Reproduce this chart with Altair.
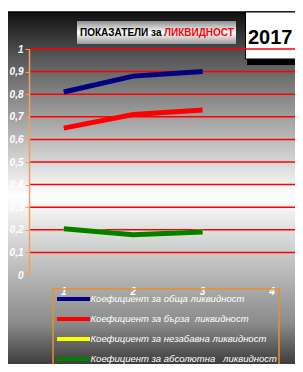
import altair as alt
import pandas as pd

# ---- data ----
periods = [1, 2, 3]
tick_positions = [1, 2, 3, 4]
tick_labels = ["1", "2", "3", "4"]
y_ticks = [0.1, 0.2, 0.3, 0.4, 0.5, 0.6, 0.7, 0.8, 0.9, 1.0]
series_names = [
    "Коефициент за обща ликвидност",
    "Коефициент за бърза\u00a0 ликвидност",
    "Коефициент за незабавна ликвидност",
    "Коефициент за абсолютна\u00a0\u00a0 ликвидност",
]
series_colors = ["#000080", "#ff0000", "#ffff00", "#008000"]
obshta = [0.81, 0.88, 0.90]
barza = [0.65, 0.71, 0.73]
nezabavna = [0.205, 0.178, 0.19]
absolyutna = [0.205, 0.178, 0.19]
series_values = [obshta, barza, nezabavna, absolyutna]

W, H = 266, 226
YSCALE = alt.Scale(domain=[0, 1])
XSCALE = alt.Scale(domain=[0.5, 4.33], nice=False, zero=False)

def grad(stops):
    return alt.Gradient(
        gradient="linear",
        stops=[alt.GradientStop(color=c, offset=o) for o, c in stops],
        x1=0, x2=0, y1=0, y2=1,
    )

one = pd.DataFrame({"a": [0]})

# background frame
bg = alt.Chart(one).mark_rect(
    fill=grad([(0, "#101010"), (0.12, "#555555"), (0.5, "#ffffff"), (0.85, "#8a8a8a"), (1, "#202020")]),
    stroke="black", strokeWidth=1.5,
).encode(x=alt.value(-22), x2=alt.value(300), y=alt.value(-37), y2=alt.value(330))

# title box
tbox = alt.Chart(one).mark_rect(
    fill=grad([(0, "#8c8c8c"), (0.5, "#ffffff"), (1, "#9a9a9a")]),
).encode(x=alt.value(48), x2=alt.value(207), y=alt.value(-28), y2=alt.value(-5))
t1 = alt.Chart(one).mark_text(
    text="ПОКАЗАТЕЛИ за", font="Liberation Sans", fontWeight="bold", fontSize=10,
    color="black", align="left", baseline="middle",
).encode(x=alt.value(51), y=alt.value(-16.5))
t2 = alt.Chart(one).mark_text(
    text="ЛИКВИДНОСТ", font="Liberation Sans", fontWeight="bold", fontSize=10,
    color="#ff0000", align="left", baseline="middle",
).encode(x=alt.value(135), y=alt.value(-16.5))

# year box
yshadow = alt.Chart(one).mark_rect(fill="black").encode(
    x=alt.value(218), x2=alt.value(300), y=alt.value(4), y2=alt.value(16))
ybox = alt.Chart(one).mark_rect(fill="white", stroke="black", strokeWidth=1).encode(
    x=alt.value(216.5), x2=alt.value(300), y=alt.value(-37), y2=alt.value(10))
ytext = alt.Chart(one).mark_text(
    text="2017", font="Liberation Sans", fontWeight="bold", fontSize=20,
    color="black", align="left", baseline="alphabetic",
).encode(x=alt.value(219), y=alt.value(-5))

# grid lines
grid_df = pd.DataFrame({"t": y_ticks})
grid = alt.Chart(grid_df).mark_rule(color="#ff0000", strokeWidth=1.5).encode(
    y=alt.Y("t:Q", scale=YSCALE, axis=None), x=alt.value(0), x2=alt.value(300))

# lines
line_layers = []
for i, (name, vals) in enumerate(zip(series_names, series_values)):
    df = pd.DataFrame({"period": periods, "value": vals, "series": name})
    enc_x = alt.X("period:Q", scale=XSCALE, axis=None)
    enc_y = alt.Y("value:Q", scale=YSCALE, axis=None)
    if i == 0:
        enc_x = alt.X("period:Q", scale=XSCALE, title=None, axis=alt.Axis(
            values=[0.5, 1.5, 2.5, 3.5], labels=False, grid=False,
            domainColor="black", domainWidth=1.5, tickColor="black", tickSize=4, tickWidth=1,
            zindex=1))
        enc_y = alt.Y("value:Q", scale=YSCALE, title=None, axis=alt.Axis(
            values=[0, 0.1, 0.2, 0.3, 0.4, 0.5, 0.6, 0.7, 0.8, 0.9, 1.0], grid=False,
            domainColor="#f0a060", domainWidth=1.5, tickColor="#f0a060", tickSize=4,
            labelColor="white", labelFont="Liberation Sans", labelFontSize=10,
            labelFontWeight="bold", labelFontStyle="italic", labelPadding=2,
            labelExpr="datum.value == 0 ? '0' : datum.value == 1 ? '1' : replace(format(datum.value, '.1f'), '.', ',')",
            zindex=1))
    line_layers.append(
        alt.Chart(df).mark_line(color=series_colors[i], strokeWidth=5, strokeCap="butt")
        .encode(x=enc_x, y=enc_y)
    )

# x tick labels
xl_df = pd.DataFrame({"pos": tick_positions, "lab": tick_labels})
xlabels = alt.Chart(xl_df).mark_text(
    color="white", font="Liberation Sans", fontSize=10, fontWeight="bold", fontStyle="italic",
    baseline="middle",
).encode(x=alt.X("pos:Q", scale=XSCALE, axis=None), y=alt.value(243), text="lab:N")

# legend
leg_df = pd.DataFrame({"idx": [0, 1, 2, 3], "name": series_names, "col": series_colors})
LSCALE = alt.Scale(domain=[0, 3], range=[250, 310])
leg_box = alt.Chart(one).mark_rect(fillOpacity=0, stroke="#e8902a", strokeWidth=1.5).encode(
    x=alt.value(24), x2=alt.value(250), y=alt.value(240), y2=alt.value(340))
leg_sym = alt.Chart(leg_df).mark_rule(strokeWidth=4).encode(
    y=alt.Y("idx:Q", scale=LSCALE, axis=None), x=alt.value(28), x2=alt.value(61),
    color=alt.Color("col:N", scale=None))
leg_txt = alt.Chart(leg_df).mark_text(
    color="white", font="Liberation Sans", fontSize=9.5, fontStyle="italic",
    align="left", baseline="middle",
).encode(y=alt.Y("idx:Q", scale=LSCALE, axis=None), x=alt.value(61.5), text="name:N")

chart = alt.layer(
    bg, tbox, t1, t2, yshadow, ybox, ytext, grid, *line_layers, xlabels, leg_box, leg_sym, leg_txt
).resolve_scale(y="independent").properties(
    width=W, height=H,
    autosize=alt.AutoSizeParams(type="none"),
    padding={"left": 21, "top": 41, "right": 0, "bottom": 89},
).configure_view(stroke=None)

chart.save("out.html", embed_options={"renderer": "svg", "actions": False})
